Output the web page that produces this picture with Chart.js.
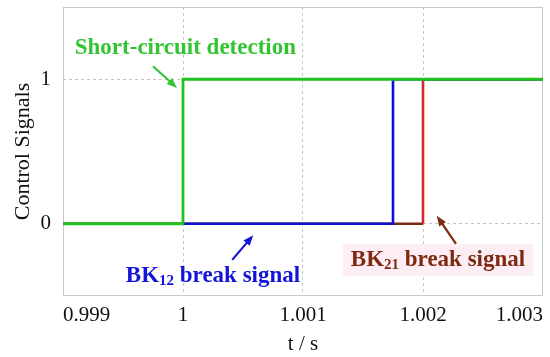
<!DOCTYPE html>
<html>
<head>
<meta charset="utf-8">
<script src="https://cdn.jsdelivr.net/npm/chart.js@4.4.1/dist/chart.umd.min.js"></script>
<style>
    html, body { margin: 0; padding: 0; background: #fff; }
    #wrap { width: 550px; height: 357px; }
</style>
</head>
<body>
<div id="wrap"><canvas id="signalsChart"></canvas></div>
<script>
// Time axis (s) and tick labels
const xTicks = [0.999, 1, 1.001, 1.002, 1.003];
const xTickLabels = ["0.999", "1", "1.001", "1.002", "1.003"];
const yTicks = [0, 1];
const yTickLabels = ["0", "1"];

// Short-circuit detection signal
const tDetect = [0.999, 1, 1, 1.003];
const sDetect = [0, 0, 1, 1];

// BK12 break signal
const tBk12 = [1, 1.00175, 1.00175, 1.003];
const sBk12 = [0, 0, 1, 1];

// BK21 break signal
const tBk21 = [0.999, 1.002, 1.002, 1.003];
const sBk21 = [0, 0, 1, 1];

function toPoints(t, s) {
    return t.map((v, i) => ({ x: v, y: s[i] }));
}

document.addEventListener("DOMContentLoaded", function () {
    Chart.defaults.font.family = "'Liberation Serif', 'Times New Roman', serif";
    Chart.defaults.color = "#111";

    const GREEN = "#1fc21f";
    const BLUE = "#0f0fd2";
    const BROWN = "#7a2c12";
    const RED = "#d8262a";

    // Annotations in data units: text labels + arrows
    const notes = [
        { parts: [["Short-circuit detection", false]], x: 1.00002, y: 1.215, color: "#33c433",
          arrow: [0.99975, 1.09, 0.99995, 0.94] },
        { parts: [["BK", false], ["12", true], [" break signal", false]], x: 1.00025, y: -0.36, color: "#1414d8",
          arrow: [1.00041, -0.25, 1.000585, -0.08] },
        { parts: [["BK", false], ["21", true], [" break signal", false]], x: 1.002125, y: -0.25, color: "#7e2a10",
          arrow: [1.002275, -0.14, 1.002115, 0.055], bg: "#fdeef5" },
    ];

    // Frame around the plot area + annotations
    const framePlugin = {
        id: "frame",
        beforeDatasetsDraw(chart) {
            const a = chart.chartArea, c = chart.ctx;
            c.save();
            c.strokeStyle = "#c8c8c8";
            c.lineWidth = 1;
            c.strokeRect(a.left + 0.5, a.top + 0.5, a.width - 1, a.height - 1);
            c.restore();
        },
        afterDatasetsDraw(chart) {
            const c = chart.ctx;
            const xs = chart.scales.x, ys = chart.scales.y;
            const big = "bold 23px 'Liberation Serif', serif";
            const small = "bold 15px 'Liberation Serif', serif";
            notes.forEach((n) => {
                c.save();
                // measure text
                let w = 0;
                n.parts.forEach((p) => {
                    c.font = p[1] ? small : big;
                    w += c.measureText(p[0]).width;
                });
                const cx = xs.getPixelForValue(n.x), cy = ys.getPixelForValue(n.y);
                let px = cx - w / 2;
                if (n.bg) {
                    c.fillStyle = n.bg;
                    c.fillRect(px - 8, cy - 16, w + 16, 32);
                }
                c.fillStyle = n.color;
                c.textBaseline = "middle";
                n.parts.forEach((p) => {
                    c.font = p[1] ? small : big;
                    c.fillText(p[0], px, p[1] ? cy + 5 : cy);
                    px += c.measureText(p[0]).width;
                });
                // arrow
                const x1 = xs.getPixelForValue(n.arrow[0]), y1 = ys.getPixelForValue(n.arrow[1]);
                const x2 = xs.getPixelForValue(n.arrow[2]), y2 = ys.getPixelForValue(n.arrow[3]);
                const ang = Math.atan2(y2 - y1, x2 - x1);
                c.strokeStyle = n.color;
                c.lineWidth = 2.2;
                c.beginPath();
                c.moveTo(x1, y1);
                c.lineTo(x2 - 8 * Math.cos(ang), y2 - 8 * Math.sin(ang));
                c.stroke();
                c.beginPath();
                c.moveTo(x2, y2);
                c.lineTo(x2 - 11 * Math.cos(ang - 0.38), y2 - 11 * Math.sin(ang - 0.38));
                c.lineTo(x2 - 11 * Math.cos(ang + 0.38), y2 - 11 * Math.sin(ang + 0.38));
                c.closePath();
                c.fill();
                c.restore();
            });
        },
    };

    function gridColor(ctx) {
        const v = ctx.tick ? ctx.tick.value : null;
        return v === 0.999 || v === 1.003 ? "rgba(0,0,0,0)" : "#c4c4c4";
    }

    var ctx = document.getElementById("signalsChart").getContext("2d");
    new Chart(ctx, {
        type: "line",
        data: {
            datasets: [
                {
                    label: "BK21 break signal",
                    data: toPoints(tBk21, sBk21),
                    borderColor: BROWN,
                    segment: {
                        borderColor: (s) => (s.p0.parsed.x === s.p1.parsed.x ? RED : BROWN),
                    },
                    borderWidth: 2.6,
                    pointRadius: 0,
                    order: 3,
                },
                {
                    label: "BK12 break signal",
                    data: toPoints(tBk12, sBk12),
                    borderColor: BLUE,
                    borderWidth: 2.6,
                    pointRadius: 0,
                    order: 2,
                },
                {
                    label: "Short-circuit detection",
                    data: toPoints(tDetect, sDetect),
                    borderColor: GREEN,
                    borderWidth: 2.8,
                    pointRadius: 0,
                    order: 1,
                },
            ],
        },
        options: {
            responsive: true,
            maintainAspectRatio: false,
            animation: false,
            layout: { padding: { top: 7, right: 7, left: 0, bottom: 0 } },
            plugins: { legend: { display: false }, tooltip: { enabled: false } },
            scales: {
                x: {
                    type: "linear",
                    min: 0.999,
                    max: 1.003,
                    afterBuildTicks: (s) => { s.ticks = xTicks.map((v) => ({ value: v })); },
                    afterFit: (s) => { s.height = 61; s.paddingLeft = 0; s.paddingRight = 0; },
                    ticks: {
                        font: { size: 21 },
                        padding: 7,
                        align: "inner",
                        maxRotation: 0,
                        callback: (v, i) => xTickLabels[i],
                    },
                    grid: { color: gridColor, drawTicks: false, lineWidth: 1 },
                    border: { display: false, dash: [3, 3] },
                    title: { display: true, text: "t / s", font: { size: 21 }, padding: { top: 2, bottom: 0 } },
                },
                y: {
                    type: "linear",
                    min: -0.5,
                    max: 1.5,
                    afterBuildTicks: (s) => { s.ticks = yTicks.map((v) => ({ value: v })); },
                    afterFit: (s) => { s.width = 63; s.paddingTop = 0; s.paddingBottom = 0; },
                    ticks: {
                        font: { size: 21 },
                        padding: 12,
                        callback: (v, i) => yTickLabels[i],
                    },
                    grid: { color: "#c4c4c4", drawTicks: false, lineWidth: 1 },
                    border: { display: false, dash: [3, 3] },
                    title: { display: true, text: "Control Signals", font: { size: 22 }, padding: { top: 10, bottom: 0 } },
                },
            },
        },
        plugins: [framePlugin],
    });
});
</script>
</body>
</html>
